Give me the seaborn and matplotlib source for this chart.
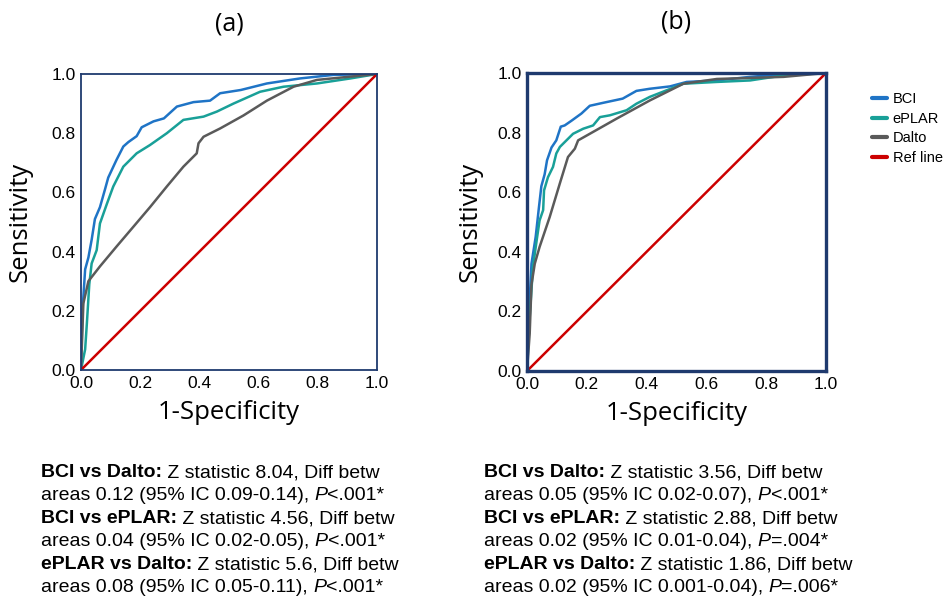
#!/usr/bin/env python3
# ROC curves for BCI, ePLAR and Dalto, two cohorts (a) and (b)

import matplotlib
matplotlib.use("Agg")
import matplotlib.pyplot as plt
from matplotlib.transforms import IdentityTransform
import seaborn as sns
import pandas as pd

models = ["BCI", "ePLAR", "Dalto", "Ref line"]
colors = {"BCI": "#1f74c6", "ePLAR": "#19a098", "Dalto": "#5a5a5a", "Ref line": "#cc0000"}

# panel (a)
a_bci_x = [0, 0.005, 0.014, 0.025, 0.036, 0.047, 0.064, 0.081, 0.092, 0.12, 0.143, 0.16, 0.188, 0.205,
           0.245, 0.28, 0.324, 0.38, 0.436, 0.47, 0.54, 0.628, 0.74, 0.853, 1.0]
a_bci_y = [0, 0.2, 0.34, 0.38, 0.44, 0.51, 0.55, 0.61, 0.65, 0.71, 0.755, 0.77, 0.79, 0.82,
           0.84, 0.85, 0.89, 0.905, 0.91, 0.935, 0.946, 0.968, 0.985, 0.997, 1.0]
a_eplar_x = [0, 0.014, 0.02, 0.028, 0.036, 0.053, 0.064, 0.087, 0.109, 0.143, 0.188, 0.233, 0.29,
             0.346, 0.414, 0.459, 0.515, 0.605, 0.684, 0.797, 0.91, 1.0]
a_eplar_y = [0, 0.07, 0.16, 0.29, 0.36, 0.405, 0.495, 0.56, 0.62, 0.687, 0.732, 0.76, 0.80,
             0.845, 0.856, 0.873, 0.90, 0.94, 0.957, 0.968, 0.985, 1.0]
a_dalto_x = [0, 0.008, 0.025, 0.064, 0.12, 0.177, 0.233, 0.29, 0.346, 0.391, 0.397, 0.414, 0.47,
             0.549, 0.628, 0.718, 0.797, 1.0]
a_dalto_y = [0, 0.225, 0.30, 0.35, 0.417, 0.484, 0.55, 0.62, 0.687, 0.732, 0.766, 0.788, 0.816,
             0.86, 0.91, 0.957, 0.98, 1.0]

# panel (b)
b_bci_x = [0, 0.006, 0.015, 0.029, 0.04, 0.048, 0.059, 0.067, 0.082, 0.098, 0.113, 0.126, 0.149,
           0.182, 0.21, 0.255, 0.32, 0.366, 0.41, 0.478, 0.534, 0.635, 0.746, 0.858, 1.0]
b_bci_y = [0, 0.18, 0.36, 0.45, 0.55, 0.62, 0.66, 0.707, 0.75, 0.774, 0.82, 0.824, 0.84,
           0.864, 0.89, 0.90, 0.914, 0.94, 0.947, 0.955, 0.97, 0.975, 0.987, 0.996, 1.0]
b_eplar_x = [0, 0.009, 0.02, 0.034, 0.042, 0.054, 0.057, 0.07, 0.087, 0.098, 0.11, 0.132, 0.154,
             0.188, 0.221, 0.244, 0.277, 0.333, 0.366, 0.411, 0.467, 0.523, 0.635, 0.746, 0.858, 1.0]
b_eplar_y = [0, 0.18, 0.35, 0.45, 0.505, 0.54, 0.606, 0.65, 0.685, 0.73, 0.752, 0.774, 0.796,
             0.813, 0.824, 0.852, 0.858, 0.875, 0.897, 0.92, 0.942, 0.964, 0.97, 0.975, 0.992, 1.0]
b_dalto_x = [0, 0.009, 0.015, 0.026, 0.042, 0.076, 0.11, 0.137, 0.16, 0.171, 0.21, 0.3, 0.411,
             0.523, 0.635, 0.858, 1.0]
b_dalto_y = [0, 0.125, 0.29, 0.36, 0.416, 0.517, 0.63, 0.718, 0.746, 0.774, 0.796, 0.847, 0.908,
             0.964, 0.98, 0.987, 1.0]

ref_x = [0, 1]
ref_y = [0, 1]

a_stats = [
    [("BCI vs Dalto:", "bold", "normal"), (" Z statistic 8.04, Diff betw", "normal", "normal")],
    [("areas 0.12 (95% IC 0.09-0.14), ", "normal", "normal"), ("P", "normal", "italic"), ("<.001*", "normal", "normal")],
    [("BCI vs ePLAR:", "bold", "normal"), (" Z statistic 4.56, Diff betw", "normal", "normal")],
    [("areas 0.04 (95% IC 0.02-0.05), ", "normal", "normal"), ("P", "normal", "italic"), ("<.001*", "normal", "normal")],
    [("ePLAR vs Dalto:", "bold", "normal"), (" Z statistic 5.6, Diff betw", "normal", "normal")],
    [("areas 0.08 (95% IC 0.05-0.11), ", "normal", "normal"), ("P", "normal", "italic"), ("<.001*", "normal", "normal")],
]
b_stats = [
    [("BCI vs Dalto:", "bold", "normal"), (" Z statistic 3.56, Diff betw", "normal", "normal")],
    [("areas 0.05 (95% IC 0.02-0.07), ", "normal", "normal"), ("P", "normal", "italic"), ("<.001*", "normal", "normal")],
    [("BCI vs ePLAR:", "bold", "normal"), (" Z statistic 2.88, Diff betw", "normal", "normal")],
    [("areas 0.02 (95% IC 0.01-0.04), ", "normal", "normal"), ("P", "normal", "italic"), ("=.004*", "normal", "normal")],
    [("ePLAR vs Dalto:", "bold", "normal"), (" Z statistic 1.86, Diff betw", "normal", "normal")],
    [("areas 0.02 (95% IC 0.001-0.04), ", "normal", "normal"), ("P", "normal", "italic"), ("=.006*", "normal", "normal")],
]


def makeDF(bci, eplar, dalto) -> pd.DataFrame:
    frames = []
    for name, (xs, ys) in zip(models, [bci, eplar, dalto, (ref_x, ref_y)]):
        frames.append(pd.DataFrame({"fpr": xs, "tpr": ys, "model": name}))
    return pd.concat(frames, ignore_index=True)


def rocPanel(ax, df, frame_lw, title):
    sns.lineplot(data=df, x="fpr", y="tpr", hue="model", hue_order=models, palette=colors,
                 sort=False, estimator=None, linewidth=1.8, ax=ax, legend=False)
    ax.set_xlim(0, 1)
    ax.set_ylim(0, 1)
    ax.set_xticks([0, 0.2, 0.4, 0.6, 0.8, 1.0])
    ax.set_yticks([0, 0.2, 0.4, 0.6, 0.8, 1.0])
    ax.set_xticklabels([f"{v:.1f}" for v in ax.get_xticks()], fontfamily="Liberation Sans", fontsize=12.5)
    ax.set_yticklabels([f"{v:.1f}" for v in ax.get_yticks()], fontfamily="Liberation Sans", fontsize=12.5)
    ax.tick_params(length=0, pad=4, colors="black")
    for s in ax.spines.values():
        s.set_visible(True)
        s.set_color("#1f3a6e")
        s.set_linewidth(frame_lw)
    ax.set_xlabel("1-Specificity", fontfamily="Open Sans", fontsize=18.5, color="black")
    ax.set_ylabel("Sensitivity", fontfamily="Open Sans", fontsize=18.5, color="black")
    ax.xaxis.set_label_coords(0.5, -0.1)
    ax.text(0.5, 1.17, title, transform=ax.transAxes, ha="center", va="center",
            fontfamily="Open Sans", fontsize=18, color="black")


def richText(fig, x, y, lines, size=14, step=23):
    r = fig.canvas.get_renderer()
    for i, parts in enumerate(lines):
        cx = x
        for txt, weight, style in parts:
            t = fig.text(cx, y - i * step, txt, transform=IdentityTransform(), fontsize=size,
                         fontweight=weight, fontstyle=style, fontfamily="Liberation Sans",
                         va="baseline", ha="left", color="black")
            cx = t.get_window_extent(renderer=r).x1


def main():
    sns.set_style("white")
    fig = plt.figure(figsize=(9.52, 6.03), dpi=100)
    ax_a = fig.add_axes([81 / 952, 1 - 370 / 603, 296 / 952, 296 / 603])
    ax_b = fig.add_axes([527 / 952, 1 - 371 / 603, 299 / 952, 298 / 603])

    rocPanel(ax_a, makeDF((a_bci_x, a_bci_y), (a_eplar_x, a_eplar_y), (a_dalto_x, a_dalto_y)), 1.3, "(a)")
    rocPanel(ax_b, makeDF((b_bci_x, b_bci_y), (b_eplar_x, b_eplar_y), (b_dalto_x, b_dalto_y)), 2.4, "(b)")
    ax_a.yaxis.set_label_coords(-0.162, 0.5)
    ax_b.yaxis.set_label_coords(-0.147, 0.5)

    handles = [plt.Line2D([], [], color=colors[m], lw=3) for m in models]
    leg = fig.legend(handles, models, loc="upper left", bbox_to_anchor=(868 / 952, 1 - 88 / 603),
                     frameon=False, handlelength=1.0, handletextpad=0.4, labelspacing=0.38,
                     borderaxespad=0.0, borderpad=0.3,
                     prop={"family": "Liberation Sans", "size": 10.5})
    for t in leg.get_texts():
        t.set_color("black")

    richText(fig, 41, 603 - 477, a_stats)
    richText(fig, 484, 603 - 477, b_stats)

    plt.savefig("out.png", dpi=100)


if __name__ == "__main__":
    main()
